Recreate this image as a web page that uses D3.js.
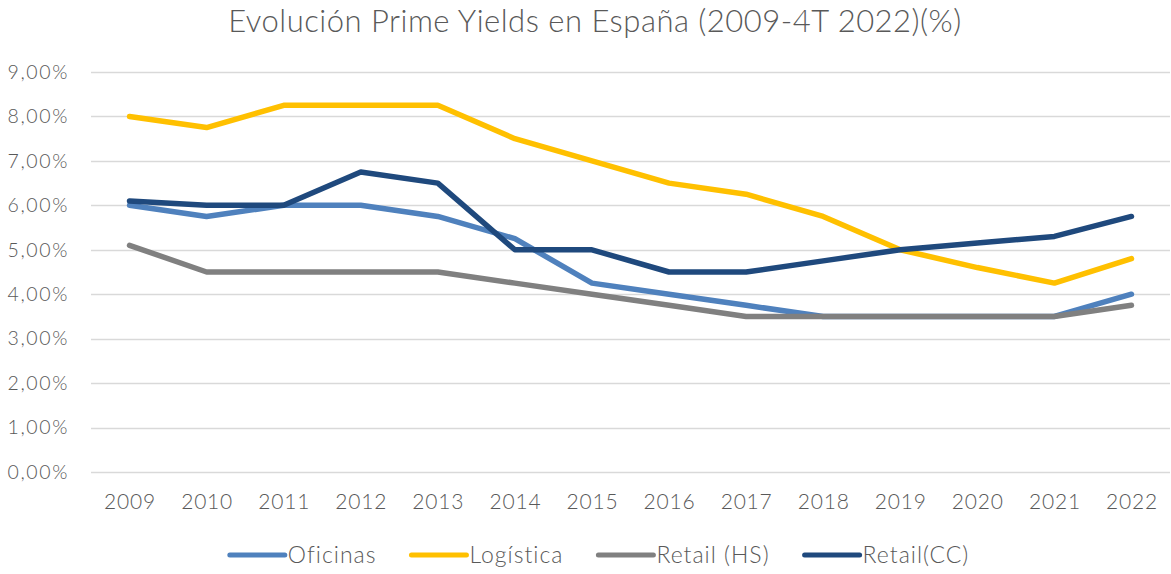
<!DOCTYPE html>
<html>
<head>
<meta charset="utf-8">
<script src="https://cdn.jsdelivr.net/npm/d3@7/dist/d3.min.js"></script>
<style>
  html, body { margin: 0; padding: 0; background: #fff; }
  svg text { font-family: Lato, "Open Sans", "DejaVu Sans", sans-serif; font-weight: 300; fill: #595959; }
</style>
</head>
<body>
<svg id="chart" width="1171" height="574"></svg>
<script>
// Años (categorías del eje X)
const years = ["2009","2010","2011","2012","2013","2014","2015","2016","2017","2018","2019","2020","2021","2022"];

// Rentabilidades prime (%) por segmento
const oficinas  = [6.00, 5.75, 6.00, 6.00, 5.75, 5.25, 4.25, 4.00, 3.75, 3.50, 3.50, 3.50, 3.50, 4.00];
const logistica = [8.00, 7.75, 8.25, 8.25, 8.25, 7.50, 7.00, 6.50, 6.25, 5.75, 5.00, 4.60, 4.25, 4.80];
const retailHS  = [5.10, 4.50, 4.50, 4.50, 4.50, 4.25, 4.00, 3.75, 3.50, 3.50, 3.50, 3.50, 3.50, 3.75];
const retailCC  = [6.10, 6.00, 6.00, 6.75, 6.50, 5.00, 5.00, 4.50, 4.50, 4.75, 5.00, 5.15, 5.30, 5.75];

// Etiquetas del eje Y
const yTicks = [0, 1, 2, 3, 4, 5, 6, 7, 8, 9];

const seriesNames  = ["Oficinas", "Logística", "Retail (HS)", "Retail(CC)"];
const seriesValues = [oficinas, logistica, retailHS, retailCC];
const seriesColors = ["#4F81BD", "#FFC000", "#808080", "#1F497D"];

const svg = d3.select("#chart");
const margin = { left: 91, right: 1, top: 72, bottom: 102 };
const W = 1171, H = 574;

const x = d3.scalePoint()
  .domain(years)
  .range([margin.left, W - margin.right])
  .padding(0.5);

const y = d3.scaleLinear()
  .domain([0, 9])
  .range([H - margin.bottom, margin.top]);

// Título
svg.append("text")
  .attr("x", 595)
  .attr("y", 32)
  .attr("text-anchor", "middle")
  .style("font-size", "31px")
  .style("letter-spacing", "0.5px")
  .text("Evolución Prime Yields en España (2009-4T 2022)(%)");

// Rejilla horizontal
svg.append("g")
  .selectAll("line")
  .data(yTicks)
  .join("line")
  .attr("x1", margin.left)
  .attr("x2", W - margin.right)
  .attr("y1", d => Math.round(y(d)) + 0.5)
  .attr("y2", d => Math.round(y(d)) + 0.5)
  .attr("stroke", "#d9d9d9")
  .attr("stroke-width", 1.5);

// Eje Y
const fmt = d => d3.format(".2f")(d).replace(".", ",") + "%";
const yAxis = svg.append("g")
  .attr("transform", `translate(${margin.left},0)`)
  .call(d3.axisLeft(y).tickValues(yTicks).tickFormat(fmt).tickSize(0).tickPadding(22));
yAxis.select(".domain").remove();
yAxis.selectAll("text")
  .attr("fill", "#595959")
  .style("font-size", "19.5px")
  .style("letter-spacing", "1.6px")
  .style("font-family", "Lato, 'Open Sans', sans-serif");

// Eje X
const xAxis = svg.append("g")
  .attr("transform", `translate(0,${H - margin.bottom})`)
  .call(d3.axisBottom(x).tickSize(0).tickPadding(22));
xAxis.select(".domain").remove();
xAxis.selectAll("text")
  .attr("fill", "#595959")
  .style("font-size", "21px")
  .style("letter-spacing", "0.8px")
  .style("font-family", "Lato, 'Open Sans', sans-serif");

// Líneas
const line = d3.line()
  .x((d, i) => x(years[i]))
  .y(d => y(d));

svg.append("g")
  .selectAll("path")
  .data(seriesValues)
  .join("path")
  .attr("d", d => line(d))
  .attr("fill", "none")
  .attr("stroke", (d, i) => seriesColors[i])
  .attr("stroke-width", 5.5)
  .attr("stroke-linecap", "round")
  .attr("stroke-linejoin", "round");

// Leyenda (centrada, muestra de línea + texto)
const legend = svg.append("g");
const sampleLen = 55, textGap = 3, itemGap = 35, legendY = 555;
const items = seriesNames.map((name, i) => {
  const g = legend.append("g");
  g.append("line")
    .attr("x1", 0).attr("x2", sampleLen)
    .attr("y1", legendY).attr("y2", legendY)
    .attr("stroke", seriesColors[i])
    .attr("stroke-width", 5)
    .attr("stroke-linecap", "round");
  const t = g.append("text")
    .attr("x", sampleLen + textGap)
    .attr("y", legendY + 8)
    .style("font-size", "23px")
    .style("letter-spacing", "1px")
    .text(name);
  return { g, w: sampleLen + textGap + t.node().getComputedTextLength() };
});
const total = d3.sum(items, d => d.w) + itemGap * (items.length - 1);
let cx = 599.5 - total / 2;
items.forEach(it => {
  it.g.attr("transform", `translate(${cx},0)`);
  cx += it.w + itemGap;
});
</script>
</body>
</html>
